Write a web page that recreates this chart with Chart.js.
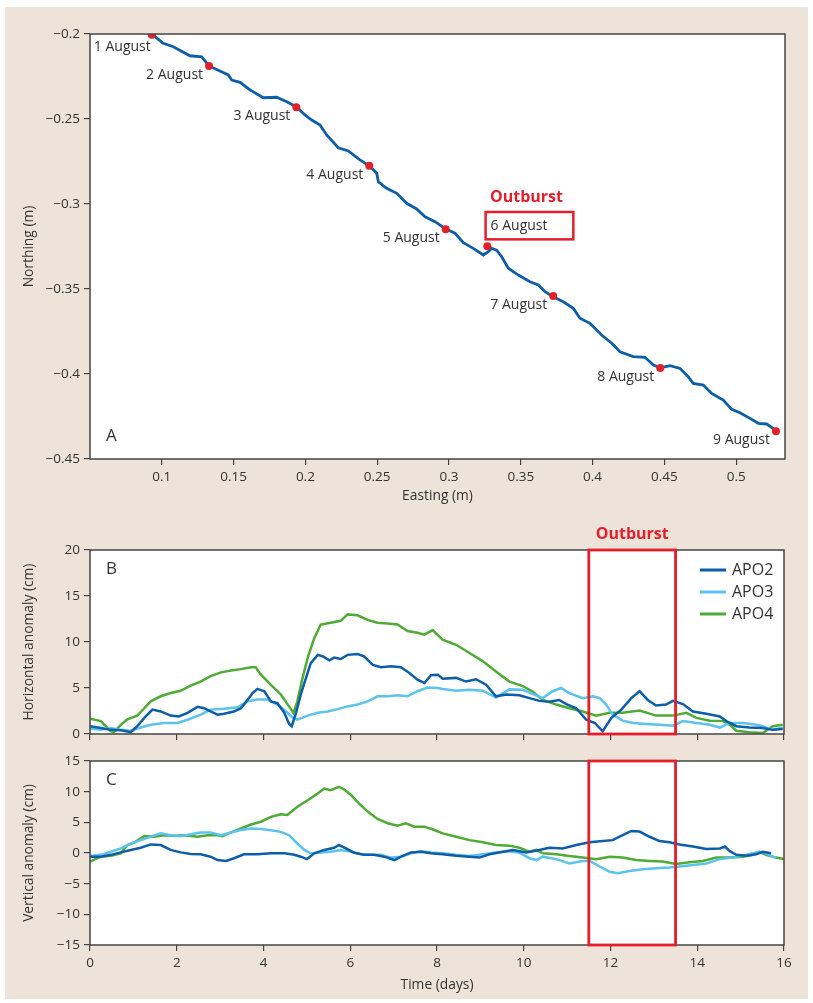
<!DOCTYPE html>
<html><head><meta charset="utf-8">
<script src="https://cdn.jsdelivr.net/npm/chart.js@4.4.1/dist/chart.umd.min.js"></script>
<style>
html,body{margin:0;padding:0;background:#fff;}
#wrap{position:relative;width:813px;height:1003px;overflow:hidden;}
#bg{position:absolute;left:5px;top:7px;width:803px;height:992px;background:#ede3d8;}
canvas{position:absolute;left:0;top:0;}
</style></head><body>
<div id="wrap"><div id="bg"></div>
<canvas id="cA" width="813" height="1003"></canvas>
<canvas id="cB" width="813" height="1003"></canvas>
<canvas id="cC" width="813" height="1003"></canvas>
</div>
<script>
// ---------- Panel A: track ----------
const trackEasting = [0.0934,0.1010,0.1080,0.1196,0.1278,0.1329,0.1405,0.1463,0.1487,0.1545,0.1614,0.1707,0.1800,0.1870,0.1939,0.1997,0.2044,0.2102,0.2148,0.2229,0.2299,0.2380,0.2445,0.2497,0.2508,0.2566,0.2636,0.2705,0.2775,0.2833,0.2903,0.2977,0.3042,0.3100,0.3169,0.3239,0.3274,0.3297,0.3332,0.3367,0.3413,0.3483,0.3564,0.3622,0.3669,0.3726,0.3796,0.3866,0.3912,0.3982,0.4063,0.4133,0.4191,0.4283,0.4365,0.4423,0.4474,0.4539,0.4609,0.4666,0.4701,0.4771,0.4829,0.4910,0.4969,0.5026,0.5096,0.5154,0.5212,0.5282];
const trackNorthing = [-0.2002,-0.2055,-0.2075,-0.2128,-0.2134,-0.2188,-0.2218,-0.2241,-0.2271,-0.2284,-0.2329,-0.2375,-0.2372,-0.2398,-0.2429,-0.2476,-0.2506,-0.2535,-0.2594,-0.2669,-0.2688,-0.2741,-0.2775,-0.2819,-0.2869,-0.2908,-0.2937,-0.2996,-0.3029,-0.3075,-0.3104,-0.3147,-0.3172,-0.3228,-0.3261,-0.3300,-0.3281,-0.3261,-0.3271,-0.3310,-0.3378,-0.3418,-0.3457,-0.3476,-0.3516,-0.3545,-0.3575,-0.3614,-0.3672,-0.3702,-0.3771,-0.3819,-0.3869,-0.3898,-0.3902,-0.3947,-0.3963,-0.3951,-0.3967,-0.4016,-0.4055,-0.4065,-0.4114,-0.4153,-0.4208,-0.4228,-0.4261,-0.4290,-0.4294,-0.4335];
const dateLabels = ['1 August','2 August','3 August','4 August','5 August','6 August','7 August','8 August','9 August'];
const dateEasting = [0.0930,0.1329,0.1937,0.2445,0.2977,0.3267,0.3726,0.4471,0.5277];
const dateNorthing = [-0.2004,-0.2188,-0.2431,-0.2775,-0.3149,-0.3249,-0.3541,-0.3965,-0.4337];
const eastingTicks = [0.1,0.15,0.2,0.25,0.3,0.35,0.4,0.45,0.5];

// ---------- Panel B: horizontal anomaly (cm) ----------
const seriesNames = ['APO2','APO3','APO4'];
const bDays2 = [0,0.25,0.48,0.71,0.94,1.09,1.28,1.44,1.63,1.86,2.05,2.25,2.48,2.63,2.78,2.94,3.09,3.32,3.48,3.63,3.75,3.86,4.02,4.17,4.32,4.48,4.59,4.65,4.75,4.86,4.98,5.09,5.25,5.36,5.52,5.63,5.78,5.94,6.17,6.32,6.52,6.71,6.94,7.17,7.37,7.55,7.71,7.86,8.02,8.13,8.44,8.67,8.9,9.13,9.36,9.6,9.9,10.13,10.36,10.59,10.82,10.98,11.21,11.44,11.64,11.82,12.02,12.25,12.48,12.67,12.86,13.05,13.28,13.44,13.67,13.9,14.21,14.52,14.67,14.9,15.2,15.51,15.74,15.97];
const bAPO2 = [0.85,0.65,0.45,0.4,0.2,0.85,1.9,2.65,2.45,2.0,1.9,2.3,2.95,2.8,2.45,2.1,2.2,2.45,2.8,3.7,4.45,4.9,4.65,3.55,3.35,2.3,1.1,0.85,2.3,4.3,6.1,7.7,8.6,8.45,8.0,8.3,8.15,8.6,8.7,8.45,7.5,7.25,7.35,7.25,6.6,5.9,5.55,6.4,6.45,6.0,6.1,5.7,5.95,5.35,4.1,4.3,4.2,3.9,3.6,3.5,3.7,3.25,2.8,1.55,1.2,0.3,1.75,2.65,3.9,4.65,3.7,3.1,3.2,3.6,3.25,2.45,2.2,1.9,1.4,0.85,0.7,0.65,0.45,0.55];
const bDays3 = [0,0.25,0.48,0.71,0.94,1.17,1.4,1.71,2.02,2.25,2.55,2.78,3.09,3.4,3.63,3.86,4.09,4.32,4.52,4.67,4.78,5.02,5.25,5.48,5.71,5.94,6.17,6.4,6.63,6.86,7.09,7.32,7.55,7.78,8.02,8.13,8.44,8.75,9.06,9.36,9.67,9.98,10.21,10.44,10.67,10.86,11.05,11.36,11.6,11.75,11.9,12.05,12.28,12.52,12.82,13.13,13.44,13.67,13.98,14.29,14.52,14.75,15.05,15.36,15.51,15.74,15.97];
const bAPO3 = [0.6,0.45,0.65,0.45,0.35,0.7,1.0,1.2,1.2,1.55,2.1,2.65,2.75,2.9,3.55,3.75,3.75,3.2,2.45,1.8,1.55,2.0,2.3,2.45,2.7,3.0,3.2,3.55,4.1,4.1,4.2,4.1,4.65,5.05,5.0,4.9,4.7,4.8,4.7,3.95,4.85,4.8,4.35,3.9,4.65,5.0,4.45,3.9,4.1,3.9,3.2,2.1,1.45,1.2,1.1,1.0,0.9,1.4,1.2,1.0,0.7,1.2,1.2,1.0,0.85,0.45,0.7];
const bDays4 = [0,0.25,0.48,0.55,0.71,0.86,1.09,1.25,1.4,1.63,1.86,2.09,2.32,2.55,2.78,3.02,3.25,3.48,3.71,3.82,3.94,4.17,4.4,4.59,4.69,4.78,4.9,5.02,5.17,5.32,5.55,5.78,5.94,6.17,6.4,6.63,6.86,7.09,7.32,7.55,7.71,7.9,8.13,8.44,8.75,9.06,9.36,9.67,9.98,10.21,10.44,10.75,11.05,11.36,11.67,11.98,12.28,12.67,13.05,13.44,13.75,13.98,14.29,14.6,14.75,14.9,15.2,15.51,15.74,15.97];
const bAPO4 = [1.67,1.4,0.3,0.2,1.0,1.6,2.0,2.8,3.55,4.1,4.45,4.7,5.25,5.7,6.3,6.7,6.9,7.05,7.25,7.25,6.45,5.35,4.3,3.0,2.3,3.55,6.1,8.3,10.4,11.9,12.1,12.3,13.0,12.9,12.4,12.1,12.0,11.9,11.2,11.0,10.8,11.3,10.25,9.7,8.8,7.9,6.8,5.7,5.2,4.6,3.7,3.2,2.8,2.45,2.0,2.3,2.3,2.55,2.0,2.0,2.3,1.75,1.45,1.4,1.0,0.35,0.2,0.1,0.85,1.0];

// ---------- Panel C: vertical anomaly (cm) ----------
const cDays2 = [0,0.25,0.48,0.71,0.94,1.17,1.4,1.63,1.86,2.09,2.32,2.55,2.78,2.94,3.14,3.32,3.55,3.86,4.17,4.48,4.71,4.86,5.0,5.17,5.4,5.63,5.74,5.9,6.09,6.32,6.55,6.78,7.02,7.17,7.4,7.63,7.86,8.13,8.44,8.75,8.98,9.21,9.52,9.75,10.06,10.36,10.59,10.9,11.21,11.52,11.82,12.05,12.28,12.48,12.67,12.9,13.13,13.36,13.59,13.9,14.21,14.52,14.64,14.75,14.9,15.13,15.36,15.51,15.7];
const cAPO2 = [-0.6,-0.6,-0.3,0.1,0.5,0.85,1.4,1.3,0.5,0.1,-0.15,-0.2,-0.6,-1.15,-1.3,-0.85,-0.2,-0.2,-0.05,-0.05,-0.3,-0.6,-1.0,-0.05,0.5,0.85,1.3,0.75,0.05,-0.3,-0.3,-0.6,-1.15,-0.6,0.1,0.2,-0.05,-0.2,-0.45,-0.6,-0.75,-0.2,0.2,0.5,0.1,0.5,0.85,0.75,1.3,1.75,1.95,2.1,2.9,3.6,3.5,2.65,1.95,1.75,1.4,1.05,0.65,0.75,1.05,0.3,-0.3,-0.45,-0.2,0.2,-0.05];
const cDays3 = [0,0.25,0.48,0.71,0.94,1.17,1.4,1.63,1.86,2.09,2.32,2.55,2.78,3.02,3.25,3.48,3.71,3.94,4.17,4.4,4.59,4.78,4.94,5.09,5.32,5.55,5.78,6.02,6.25,6.48,6.71,6.94,7.17,7.4,7.63,7.86,8.13,8.44,8.75,9.06,9.36,9.67,9.9,10.13,10.29,10.44,10.75,11.05,11.36,11.52,11.75,11.98,12.17,12.44,12.75,13.05,13.36,13.59,13.9,14.21,14.52,14.82,15.13,15.43,15.58,15.82];
const cAPO3 = [-0.5,-0.3,0.2,0.75,1.55,2.1,2.65,3.2,2.9,2.75,3.05,3.35,3.35,2.9,3.35,3.75,4.0,3.9,3.7,3.45,2.9,1.55,0.5,-0.05,0.1,0.2,0.5,0.2,-0.2,-0.3,-0.3,-0.75,-0.6,-0.05,0.3,0.1,-0.05,-0.3,-0.5,-0.2,0.1,0.3,0.05,-0.85,-1.15,-0.6,-1.0,-1.7,-1.3,-1.3,-2.2,-3.05,-3.3,-2.95,-2.65,-2.5,-2.35,-2.2,-1.95,-1.7,-1.0,-0.75,-0.3,0.2,-0.05,-0.85];
const cDays4 = [0,0.25,0.48,0.71,0.86,1.02,1.25,1.48,1.71,1.94,2.17,2.48,2.71,2.94,3.05,3.25,3.48,3.71,3.94,4.17,4.4,4.55,4.78,5.02,5.25,5.4,5.55,5.74,5.86,6.02,6.2,6.4,6.63,6.86,7.09,7.28,7.48,7.71,7.94,8.13,8.44,8.75,9.06,9.36,9.67,9.9,10.13,10.29,10.44,10.75,11.05,11.36,11.67,11.98,12.28,12.59,12.9,13.2,13.51,13.82,14.13,14.44,14.75,15.05,15.28,15.43,15.58,15.82,16];
const cAPO4 = [-1.4,-0.6,-0.45,-0.05,1.3,1.7,2.75,2.65,2.9,2.8,2.9,2.65,2.9,2.9,2.75,3.35,4.0,4.65,5.1,5.9,6.3,6.2,7.55,8.6,9.7,10.5,10.25,10.8,10.35,9.45,8.1,6.75,5.55,4.85,4.45,4.85,4.3,4.3,3.75,3.2,2.65,2.1,1.75,1.3,1.2,0.85,0.2,0.5,-0.05,-0.2,-0.5,-0.75,-1.0,-0.6,-0.75,-1.15,-1.3,-1.4,-1.8,-1.5,-1.3,-0.75,-0.75,-0.6,-0.3,0.2,-0.3,-0.75,-1.0];

// outburst window (days) and the boxed label in panel A (data units)
const outburstStart = 11.5, outburstEnd = 13.5;
const boxA = {x0:0.3255, x1:0.3866, y0:-0.3047, y1:-0.3208};

// ---------- styling ----------
const FONT = "'Open Sans', sans-serif";
const TXT = '#333333';
const RED = '#e41f2b';
const COLORS = ['#0d5ea9', '#5cc3ee', '#4fab35'];
const TRACK = '#0d5ea9';

Chart.defaults.font.family = FONT;
Chart.defaults.color = TXT;
Chart.defaults.animation = false;

const pts = (xs, ys) => xs.map((x, i) => ({x, y: ys[i]}));
const minus = v => (v < 0 ? '\u2212' : '') + String(+Math.abs(v).toFixed(2));

function gridOpts() {
  return {drawOnChartArea:false, drawTicks:true, tickLength:6, color:'#444', lineWidth:1.2};
}
function yAxis(min, max, step, title) {
  return {
    type:'linear', min, max,
    ticks:{stepSize:step, color:TXT, font:{size:13.5}, padding:4, callback:minus},
    grid:gridOpts(), border:{display:false},
    title:{display:true, text:title, color:TXT, font:{size:13.8}, padding:{top:21,bottom:0}},
    afterFit(s){ s.width = 90; }
  };
}
function xAxis(min, max, step, height, showLabels, title, titlePad) {
  return {
    type:'linear', min, max,
    ticks:{stepSize:step, color: showLabels ? TXT : 'rgba(0,0,0,0)', font:{size:13.5}, padding:4, autoSkip:false, maxRotation:0, callback:minus},
    grid:gridOpts(), border:{display:false},
    title:{display: !!title, text: title || '', color:TXT, font:{size:13.8}, padding:{top:0,bottom:titlePad||0}},
    afterFit(s){ s.height = height; }
  };
}

const frame = {
  id:'frame',
  beforeDraw(chart){
    const {ctx, chartArea:a} = chart;
    ctx.save(); ctx.fillStyle = '#ffffff';
    ctx.fillRect(a.left, a.top, a.right - a.left, a.bottom - a.top);
    ctx.restore();
  },
  afterDatasetsDraw(chart){
    const {ctx, chartArea:a} = chart;
    ctx.save(); ctx.strokeStyle = '#444'; ctx.lineWidth = 1.5;
    ctx.strokeRect(a.left, a.top, a.right - a.left, a.bottom - a.top);
    ctx.restore();
  }
};

function panelLetter(chart, letter, dx, dy){
  const {ctx, chartArea:a} = chart;
  ctx.save(); ctx.fillStyle = TXT; ctx.font = `17px ${FONT}`;
  ctx.textBaseline = 'middle'; ctx.textAlign = 'left';
  ctx.fillText(letter, a.left + dx, dy >= 0 ? a.top + dy : a.bottom + dy);
  ctx.restore();
}

// ---------- Chart A ----------
const annotA = {
  id:'annotA',
  afterDatasetsDraw(chart){
    const {ctx} = chart; const xs = chart.scales.x, ys = chart.scales.y;
    ctx.save();
    ctx.fillStyle = TXT; ctx.font = `14px ${FONT}`; ctx.textBaseline = 'middle';
    dateLabels.forEach((lab, i) => {
      if (i === 5) return;
      const px = xs.getPixelForValue(dateEasting[i]), py = ys.getPixelForValue(dateNorthing[i]);
      ctx.textAlign = 'right';
      if (i === 0) ctx.fillText(lab, px - 1, py + 12);
      else ctx.fillText(lab, px - 6, py + 9);
    });
    const bx0 = xs.getPixelForValue(boxA.x0), bx1 = xs.getPixelForValue(boxA.x1);
    const by0 = ys.getPixelForValue(boxA.y0), by1 = ys.getPixelForValue(boxA.y1);
    ctx.strokeStyle = RED; ctx.lineWidth = 2.5;
    ctx.strokeRect(bx0, by0, bx1 - bx0, by1 - by0);
    ctx.textAlign = 'left';
    ctx.fillText(dateLabels[5], bx0 + 5, (by0 + by1) / 2);
    ctx.fillStyle = RED; ctx.font = `bold 16px ${FONT}`; ctx.textAlign = 'center';
    ctx.fillText('Outburst', (bx0 + bx1) / 2 - 3, by0 - 15);
    ctx.restore();
    panelLetter(chart, 'A', 16, -23);
  }
};

new Chart(document.getElementById('cA'), {
  type:'scatter',
  data:{datasets:[
    {label:'Dates', data:pts(dateEasting, dateNorthing), pointRadius:4, pointBackgroundColor:RED, pointBorderWidth:0, showLine:false},
    {label:'Track', data:pts(trackEasting, trackNorthing), showLine:true, borderColor:TRACK, borderWidth:2.8, pointRadius:0, tension:0}
  ]},
  options:{
    responsive:false, events:[],
    layout:{padding:{left:0, top:34, right:28, bottom:494}},
    plugins:{legend:{display:false}, tooltip:{enabled:false}},
    scales:{
      x:Object.assign(xAxis(0.05, 0.534, 0.05, 50, true, 'Easting (m)', 4.6), {
        afterBuildTicks(s){ s.ticks = eastingTicks.map(v => ({value:v})); }
      }),
      y:yAxis(-0.45, -0.2, 0.05, 'Northing (m)')
    }
  },
  plugins:[frame, annotA]
});

// ---------- Charts B and C ----------
function outburstPlugin(letter, withTitle, withLegend){
  return {
    id:'outburst' + letter,
    afterDatasetsDraw(chart){
      const {ctx, chartArea:a} = chart; const xs = chart.scales.x;
      const x0 = xs.getPixelForValue(outburstStart), x1 = xs.getPixelForValue(outburstEnd);
      ctx.save();
      ctx.strokeStyle = RED; ctx.lineWidth = 2.8;
      ctx.strokeRect(x0, a.top, x1 - x0, a.bottom - a.top);
      if (withTitle) {
        ctx.fillStyle = RED; ctx.font = `bold 16px ${FONT}`; ctx.textAlign = 'center'; ctx.textBaseline = 'middle';
        ctx.fillText('Outburst', (x0 + x1) / 2, a.top - 16);
      }
      if (withLegend) {
        ctx.font = `16px ${FONT}`; ctx.textAlign = 'left'; ctx.textBaseline = 'middle';
        chart.data.datasets.forEach((ds, i) => {
          const y = a.top + 20 + i * 22;
          ctx.strokeStyle = ds.borderColor; ctx.lineWidth = 3;
          ctx.beginPath(); ctx.moveTo(a.right - 84, y); ctx.lineTo(a.right - 58, y); ctx.stroke();
          ctx.fillStyle = TXT; ctx.fillText(ds.label, a.right - 52, y);
        });
      }
      ctx.restore();
      panelLetter(chart, letter, 16, 19);
    }
  };
}

function lineSets(d2, v2, d3, v3, d4, v4){
  return [[d2,v2],[d3,v3],[d4,v4]].map((p, i) => ({
    label:seriesNames[i], data:pts(p[0], p[1]), showLine:true, borderColor:COLORS[i],
    borderWidth:2.5, pointRadius:0, tension:0
  }));
}

new Chart(document.getElementById('cB'), {
  type:'scatter',
  data:{datasets:lineSets(bDays2, bAPO2, bDays3, bAPO3, bDays4, bAPO4)},
  options:{
    responsive:false, events:[],
    layout:{padding:{left:0, top:550, right:29, bottom:249}},
    plugins:{legend:{display:false}, tooltip:{enabled:false}},
    scales:{
      x:xAxis(0, 16, 2, 20, false),
      y:yAxis(0, 20, 5, 'Horizontal anomaly (cm)')
    }
  },
  plugins:[frame, outburstPlugin('B', true, true)]
});

new Chart(document.getElementById('cC'), {
  type:'scatter',
  data:{datasets:lineSets(cDays2, cAPO2, cDays3, cAPO3, cDays4, cAPO4)},
  options:{
    responsive:false, events:[],
    layout:{padding:{left:0, top:761, right:29, bottom:8}},
    plugins:{legend:{display:false}, tooltip:{enabled:false}},
    scales:{
      x:xAxis(0, 16, 2, 50, true, 'Time (days)', 1.6),
      y:yAxis(-15, 15, 5, 'Vertical anomaly (cm)')
    }
  },
  plugins:[frame, outburstPlugin('C', false, false)]
});
</script>
</body></html>
